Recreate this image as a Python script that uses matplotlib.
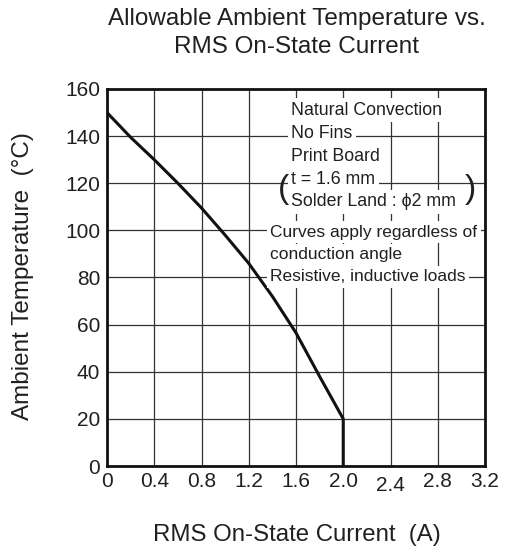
import matplotlib.pyplot as plt
import matplotlib.transforms as mtransforms

plt.rcParams['font.family'] = ['Liberation Sans', 'DejaVu Sans']

# curve
current = [0, 0.2, 0.4, 0.6, 0.8, 1.0, 1.2, 1.4, 1.6, 1.8, 2.0, 2.0]
temperature = [150, 139.5, 130, 120, 109.5, 98, 86, 72, 56.5, 38, 20, 0]

x_ticks = [0, 0.4, 0.8, 1.2, 1.6, 2.0, 2.4, 2.8, 3.2]
x_labels = ['0', '0.4', '0.8', '1.2', '1.6', '2.0', '2.4', '2.8', '3.2']
y_ticks = [0, 20, 40, 60, 80, 100, 120, 140, 160]

note_lines = ['Natural Convection', 'No Fins', 'Print Board',
              't = 1.6 mm', 'Solder Land : \u03d52 mm']
note_y = [149, 139.3, 129.6, 119.8, 110.3]
extra_lines = ['Curves apply regardless of', 'conduction angle',
               'Resistive, inductive loads']
extra_y = [97.4, 87.8, 78.4]

txt = '#231f20'
fig = plt.figure(figsize=(5.09, 5.53), dpi=100)
ax = fig.add_axes([107 / 509, 87 / 553, 378 / 509, 377 / 553])

ax.plot(current, temperature, color='#111111', lw=2.2, zorder=3)

ax.set_xlim(0, 3.2)
ax.set_ylim(0, 160)
ax.set_xticks(x_ticks)
ax.set_xticklabels(x_labels)
ax.set_yticks(y_ticks)
ax.tick_params(length=0, labelsize=15, colors=txt, pad=5)
ax.tick_params(axis='x', pad=4)
ax.grid(True, color='#333333', lw=0.9)
for s in ax.spines.values():
    s.set_linewidth(2)
    s.set_color('#111111')

# the 2.4 label sits a little low in the original
lab = ax.get_xticklabels()[6]
lab.set_transform(lab.get_transform() +
                  mtransforms.ScaledTranslation(0, -3 / 72, fig.dpi_scale_trans))

for t, y in zip(note_lines, note_y):
    ax.text(1.56, y, t, fontsize=12.8, color=txt, va='baseline', zorder=4,
            bbox=dict(facecolor='white', edgecolor='none', pad=2.5))
for t, y in zip(extra_lines, extra_y):
    ax.text(1.38, y, t, fontsize=12.5, color=txt, va='baseline', zorder=4,
            bbox=dict(facecolor='white', edgecolor='none', pad=2.5))
ax.text(1.545, 117.5, '(', fontsize=24, color=txt, va='center', ha='right',
        zorder=5, fontweight='light')
ax.text(3.03, 117.5, ')', fontsize=24, color=txt, va='center', ha='left',
        zorder=5, fontweight='light')

fig.text(0.583, 1 - 25 / 553, 'Allowable Ambient Temperature vs.',
         ha='center', va='baseline', fontsize=17.5, color=txt)
fig.text(0.583, 1 - 53 / 553, 'RMS On-State Current',
         ha='center', va='baseline', fontsize=17.5, color=txt)
fig.text(0.583, 1 - 535 / 553, 'RMS On-State Current  (A)', ha='center',
         va='center', fontsize=17.3, color=txt)
fig.text(23 / 509, 1 - 276 / 553, 'Ambient Temperature  (\u00b0C)', ha='center',
         va='center', rotation=90, fontsize=17.5, color=txt)

fig.savefig('out.png', dpi=100)
